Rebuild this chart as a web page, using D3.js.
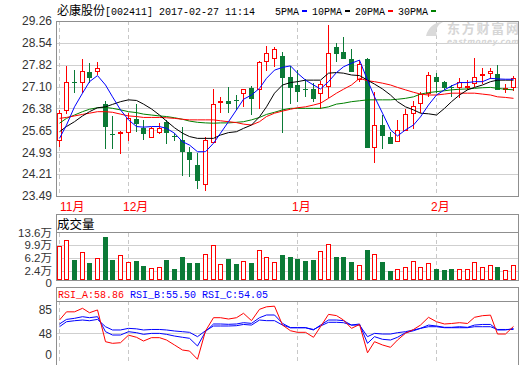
<!DOCTYPE html>
<html><head><meta charset="utf-8">
<script src="https://cdn.jsdelivr.net/npm/d3@7"></script>
<style>body{margin:0;background:#fff}svg{display:block}</style>
</head><body><svg id="c" width="520" height="365"></svg>
<script>
const dates = ["2016-11-18","2016-11-21","2016-11-22","2016-11-23","2016-11-24","2016-11-25","2016-11-28","2016-11-29","2016-11-30",
"2016-12-01","2016-12-02","2016-12-05","2016-12-06","2016-12-07","2016-12-08","2016-12-09","2016-12-12","2016-12-13","2016-12-14","2016-12-15","2016-12-16","2016-12-19","2016-12-20","2016-12-21","2016-12-22","2016-12-23","2016-12-26","2016-12-27","2016-12-28","2016-12-29","2016-12-30",
"2017-01-03","2017-01-04","2017-01-05","2017-01-06","2017-01-09","2017-01-10","2017-01-11","2017-01-12","2017-01-13","2017-01-16","2017-01-17","2017-01-18","2017-01-19","2017-01-20","2017-01-23","2017-01-24","2017-01-25","2017-01-26",
"2017-02-03","2017-02-06","2017-02-07","2017-02-08","2017-02-09","2017-02-10","2017-02-13","2017-02-14","2017-02-15","2017-02-16","2017-02-17"];
const open  = [25.34,26.33,27.26,27.24,27.58,27.62,26.51,25.53,25.56,25.59, 26.02,25.72,25.45,25.59,25.92,25.48,25.34,24.93,24.51,23.88, 25.28,26.58,26.63,26.67,26.88,27.04,27.02,27.94,28.05,28.11, 27.42,27.15,27.02,27.01,26.88,27.13,28.39,28.23,28.01,27.34, 28.01,25.10,25.83,25.45,25.30,25.67,26.22,26.55,26.90,27.40, 27.25,27.08,27.07,27.11,27.23,27.49,27.53,27.51,27.04,27.07];
const high  = [26.33,27.78,27.64,28.00,27.89,27.92,26.62,26.13,25.62,26.22, 26.51,26.00,25.75,25.91,26.00,25.58,25.77,25.12,24.90,25.45, 27.02,26.74,27.07,26.82,27.02,27.12,27.94,28.44,28.40,28.23, 27.79,27.64,27.34,27.21,27.28,29.13,28.52,28.72,28.34,27.97, 28.05,26.93,26.16,25.61,26.00,26.36,26.63,26.91,27.59,27.56, 27.28,27.15,27.37,27.31,28.03,27.70,27.72,27.81,27.18,27.45];
const low   = [25.12,26.19,26.90,26.88,27.23,27.48,25.03,25.03,24.86,25.31, 25.61,25.34,25.42,25.55,25.20,25.30,24.16,24.13,23.72,23.67, 25.28,26.22,26.22,26.33,26.43,26.16,26.36,27.61,27.75,25.56, 26.51,26.58,26.74,26.60,26.36,26.71,27.92,28.01,27.59,27.26, 25.08,24.57,25.03,25.23,25.28,25.67,25.70,26.22,26.74,26.88, 26.98,26.76,26.71,26.98,27.09,27.18,27.35,26.98,26.88,26.94];
const close = [26.22,27.24,27.25,27.61,27.42,27.70,25.81,25.52,25.59,26.07, 25.91,25.56,25.72,25.72,25.61,25.47,24.98,24.71,24.02,25.34, 26.51,26.61,26.55,26.66,27.01,26.73,27.90,28.19,28.33,27.40, 27.07,26.95,27.01,26.73,27.18,28.19,28.21,28.05,27.61,27.83, 25.10,25.82,25.50,25.23,25.67,26.18,26.47,26.85,27.47,27.29, 27.07,27.07,27.24,27.13,27.40,27.51,27.61,27.02,27.06,27.39];
const volume = [9.7,11.5,5.6,7.9,4.8,6.1,12.4,5.6,7.0,5.1, 5.3,3.8,3.1,3.6,5.6,2.9,6.5,4.8,4.8,7.4, 10.0,4.4,5.9,4.5,5.3,4.8,8.5,6.4,4.9,7.1, 6.3,5.9,5.3,5.6,8.2,10.2,6.5,6.5,5.0,4.0, 8.5,7.3,5.0,2.4,2.9,3.4,5.2,3.4,4.6,2.9, 2.6,2.9,2.9,2.9,5.0,3.4,4.0,3.5,2.6,4.0];
const ma5  = [25.39,25.83,26.43,26.88,27.26,27.46,27.15,26.76,26.33,26.00, 25.78,25.76,25.78,25.78,25.72,25.56,25.28,25.17,24.95,24.95, 25.23,25.56,25.94,26.33,26.68,26.82,27.04,27.37,27.64,27.73, 27.78,27.54,27.31,27.15,27.02,27.26,27.56,27.75,27.87,27.97, 27.31,26.76,26.22,25.67,25.47,25.67,25.83,26.10,26.49,26.82, 26.99,27.12,27.23,27.23,27.26,27.26,27.37,27.35,27.34,27.34];
const ma10 = [25.61,25.78,25.94,26.13,26.27,26.40,26.43,26.51,26.60,26.66, 26.64,26.52,26.36,26.16,25.96,25.74,25.56,25.45,25.39,25.39, 25.39,25.50,25.58,25.61,25.72,25.83,26.10,26.43,26.88,27.15, 27.23,27.26,27.31,27.31,27.31,27.54,27.56,27.54,27.48,27.46, 27.31,27.18,27.02,26.82,26.60,26.43,26.33,26.22,26.20,26.16, 26.38,26.60,26.82,26.99,27.07,27.15,27.26,27.31,27.31,27.31];
const ma20 = [26.05,26.08,26.13,26.18,26.22,26.27,26.27,26.25,26.19,26.13, 26.11,26.08,26.08,26.08,26.07,26.05,26.02,26.00,26.00,26.00, 26.00,25.97,25.94,25.91,25.86,25.83,25.94,26.11,26.22,26.29, 26.35,26.40,26.43,26.49,26.55,26.71,26.88,27.01,27.15,27.37, 27.29,27.26,27.21,27.15,27.07,26.99,26.91,26.85,26.82,26.82, 26.85,26.88,26.88,26.88,26.88,26.85,26.82,26.76,26.74,26.71];
const ma30 = [25.89,26.05,26.16,26.27,26.35,26.40,26.41,26.38,26.33,26.27, 26.24,26.19,26.16,26.13,26.11,26.07,26.02,25.96,25.92,25.90, 25.89,25.90,25.90,25.92,25.94,26.00,26.08,26.18,26.25,26.33, 26.38,26.38,26.38,26.38,26.38,26.43,26.52,26.55,26.60,26.63, 26.66,26.66,26.66,26.66,26.68,26.71,26.76,26.85,26.90,26.93, 26.96,26.99,27.01,27.02,27.04,27.06,27.07,27.04,27.01,26.99];
const rsiA = [69,82,82,87.6,80.6,85,34.6,32,33,45, 41.6,35.7,41,41,37.3,29.4,21.4,19.8,6.7,51.6, 72.7,72.7,70.6,72.7,79.7,68,86,90,91,61, 52,49.5,49.5,41.6,58.4,78,76,69,55.8,62, 17,34.6,29.4,25.7,37.3,48,54,61,73.3,66.3, 62.7,63.5,64.8,63.5,73.3,75.9,76.8,46.8,46.8,58.86];
const rsiB = [62.7,70,71.7,74.3,72.7,74.3,50.5,45.2,45.2,50.5, 48.9,46.3,47.8,47.8,46.3,43.6,41.6,40,27.8,50.5, 62.7,62.7,62.2,62.7,64.8,63.7,72.7,77,77,63.7, 56.8,56.8,56.8,53.2,61,69,69,68,61,62.7, 32,42.6,38.4,37.3,41.6,48.9,52,55.8,61,59.5, 57.4,57.4,58.4,57.4,61,62,62,53.2,53.2,55.5];
const rsiC = [58.4,66.3,67.9,69,67.9,70,58.4,53.2,53.2,55.8, 55,53.2,54,54,53.2,51.6,50.5,49.5,42.6,52, 59.5,59.5,59.5,60,62,61,69,68,68,61, 56.8,56.8,56.8,54,59.5,65.4,65.4,64.8,61,61, 42.6,47.8,46.8,46.8,48.9,50.5,53.2,55.8,58.4,58.4, 56.8,56.8,56.8,56.8,58.4,58.4,58.4,54,54,54.05];
const priceTicks = [23.49,24.21,24.93,25.65,26.38,27.10,27.82,28.54,29.26];
const volTicks = [0,2.4,6.2,9.9,13.6];
const rsiTicks = [0,48,85];
const title = "必康股份[002411] 2017-02-27 11:14";
const maNames = ["5PMA","10PMA","20PMA","30PMA"];

const RED="#ff0000", GREEN="#0b7a36", GRID="#cfcfcf", BORDER="#8f8f8f";
const svg = d3.select("#c");
const L = 56, R = 519;
const x = d3.scaleBand().domain(dates).range([54.65, 516.65]);
const cx = i => Math.round(x(dates[i]) + x.bandwidth()/2);
const yP = d3.scaleLinear().domain([23.49, 29.26]).range([196, 21]);
const yV = d3.scaleLinear().domain([0, 13.6]).range([279, 232.5]);
const yR = d3.scaleLinear().domain([0, 100]).range([363.5, 300.5]);
const snap = v => Math.round(v) + 0.5;

const g = svg.append("g").attr("shape-rendering","crispEdges");
priceTicks.slice(1,-1).forEach(t => g.append("line").attr("x1",L).attr("x2",R).attr("y1",snap(yP(t))).attr("y2",snap(yP(t))).attr("stroke",GRID));
volTicks.slice(1,-1).forEach(t => g.append("line").attr("x1",L).attr("x2",R).attr("y1",snap(yV(t))).attr("y2",snap(yV(t))).attr("stroke",GRID));
g.append("line").attr("x1",L).attr("x2",R).attr("y1",snap(yR(48))).attr("y2",snap(yR(48))).attr("stroke",GRID);

const monthIdx = [];
dates.forEach((d,i)=>{ if(i===0 || d.slice(5,7)!==dates[i-1].slice(5,7)) monthIdx.push(i); });
const panels = [[21,196],[232.5,280],[301,364]];
monthIdx.forEach(i => {
  panels.forEach(([a,b]) => g.append("line").attr("x1",cx(i)+0.5).attr("x2",cx(i)+0.5).attr("y1",a).attr("y2",b)
    .attr("stroke","#c8c8c8").attr("stroke-dasharray","4,3"));
  const m = +dates[i].slice(5,7);
  svg.append("text").attr("x", Math.max(cx(i)-5, 60)).attr("y",211).attr("fill",RED)
    .attr("font-family","'Liberation Sans','Noto Sans CJK SC'").attr("font-size",12).text(m+"月");
});

// watermark
svg.append("text").attr("x",447).attr("y",33).attr("fill","#d6d6d6").attr("font-family","'Noto Sans CJK SC'")
  .attr("font-weight","bold").attr("font-size",13).attr("textLength",72).text("东方财富网");
svg.append("text").attr("x",447).attr("y",44).attr("fill","#d6d6d6").attr("font-family","'DejaVu Sans'")
  .attr("font-weight","bold").attr("font-style","italic").attr("font-size",7.5).attr("textLength",72).text("eastmoney.com");
svg.append("path").attr("d","M426,36 C428,28 434,22 443,22 C437,25 435,30 437,36 Z").attr("fill","#dadada");

const cg = svg.append("g").attr("shape-rendering","crispEdges");
dates.forEach((d,i) => {
  const o=open[i], c=close[i], up = c>=o, col = up?RED:GREEN, X=cx(i);
  const top = Math.round(yP(Math.max(o,c))), bot = Math.round(yP(Math.min(o,c)));
  const yh = Math.round(yP(high[i])), yl = Math.round(yP(low[i]));
  const h = bot-top;
  if (up) {
    if (yh < top) cg.append("line").attr("x1",X+0.5).attr("x2",X+0.5).attr("y1",yh).attr("y2",top).attr("stroke",col);
    if (yl > bot) cg.append("line").attr("x1",X+0.5).attr("x2",X+0.5).attr("y1",bot+1).attr("y2",yl).attr("stroke",col);
    cg.append("rect").attr("x",X-1.5).attr("y",top+0.5).attr("width",4).attr("height",Math.max(1,h)).attr("fill","#fff").attr("stroke",col);
  } else {
    cg.append("line").attr("x1",X+0.5).attr("x2",X+0.5).attr("y1",yh).attr("y2",yl).attr("stroke",col);
    if (h < 1) cg.append("line").attr("x1",X-2).attr("x2",X+3).attr("y1",top+0.5).attr("y2",top+0.5).attr("stroke",col);
    else cg.append("rect").attr("x",X-2).attr("y",top).attr("width",5).attr("height",h+1).attr("fill",col);
  }
  const vt = Math.round(yV(volume[i])), vb = 280;
  if (up) cg.append("rect").attr("x",X-1.5).attr("y",vt+0.5).attr("width",4).attr("height",vb-vt-1).attr("fill","#fff").attr("stroke",col);
  else cg.append("rect").attr("x",X-2).attr("y",vt).attr("width",5).attr("height",vb-vt).attr("fill",col);
});

const lineP = arr => d3.line().x((v,i)=>cx(i)+0.5).y(v=>yP(v))(arr);
[[ma30,"#008000"],[ma20,RED],[ma10,"#000"],[ma5,"#0000ff"]].forEach(([arr,col]) =>
  svg.append("path").attr("d",lineP(arr)).attr("fill","none").attr("stroke",col).attr("stroke-width",1));
const lineR = arr => d3.line().x((v,i)=>cx(i)+0.5).y(v=>yR(v))(arr);
[[rsiC,"#0000ff"],[rsiB,"#0000ff"],[rsiA,RED]].forEach(([arr,col]) =>
  svg.append("path").attr("d",lineR(arr)).attr("fill","none").attr("stroke",col).attr("stroke-width",1));

const bg = svg.append("g").attr("shape-rendering","crispEdges").attr("stroke",BORDER).attr("fill","none");
bg.append("rect").attr("x",L+0.5).attr("y",21.5).attr("width",R-L-1).attr("height",175);
bg.append("rect").attr("x",L+0.5).attr("y",214.5).attr("width",R-L-1).attr("height",66);
bg.append("line").attr("x1",L).attr("x2",R).attr("y1",232.5).attr("y2",232.5);
bg.append("rect").attr("x",L+0.5).attr("y",287.5).attr("width",R-L-1).attr("height",80);
bg.append("line").attr("x1",L).attr("x2",R).attr("y1",301.5).attr("y2",301.5);

const lab = (txt, y, fs) => svg.append("text").attr("x",52).attr("y",y).attr("dy","0.36em").attr("text-anchor","end")
  .attr("fill","#333").attr("font-family","'Liberation Sans','Noto Sans CJK SC'").attr("font-size",fs||12).text(txt);
priceTicks.forEach(t => lab(t.toFixed(2), yP(t)));
volTicks.forEach(t => lab(t===0 ? "0" : t.toFixed(1)+"万", t===0 ? 282.5 : yV(t), 11.5));
rsiTicks.forEach(t => lab(String(t), t===0 ? 355 : yR(t)));

const mono = "'Liberation Mono','DejaVu Sans Mono',monospace";
const tt = svg.append("text").attr("x",57).attr("y",15).attr("fill","#000");
tt.append("tspan").attr("font-family","'Noto Sans CJK SC'").attr("font-size",12).text(title.slice(0,4));
tt.append("tspan").attr("font-family",mono).attr("font-size",10).text(title.slice(4).replace(/ /g,"\u00a0"));
const legCols = ["#0000ff","#000","#ff0000","#008000"];
let lx = 275;
maNames.forEach((n,k) => {
  svg.append("text").attr("x",lx).attr("y",15).attr("font-family",mono).attr("font-size",10).attr("fill","#000").text(n);
  const w = n.length*6;
  svg.append("rect").attr("x",lx+w+3).attr("y",10).attr("width",5).attr("height",2).attr("fill",legCols[k]);
  lx += w + 13;
});
svg.append("text").attr("x",57).attr("y",229).attr("font-family","'Noto Sans CJK SC'").attr("font-size",12.5).attr("fill","#000").text("成交量");
const rsiLab = [["RSI_A", rsiA, RED],["RSI_B", rsiB, "#0000ff"],["RSI_C", rsiC, "#0000ff"]];
rsiLab.forEach(([n,arr,col],k) => {
  svg.append("text").attr("x",58+k*72).attr("y",298).attr("font-family",mono).attr("font-size",10).attr("fill",col)
    .text(n+":"+arr[arr.length-1].toFixed(2));
});
</script></body></html>
